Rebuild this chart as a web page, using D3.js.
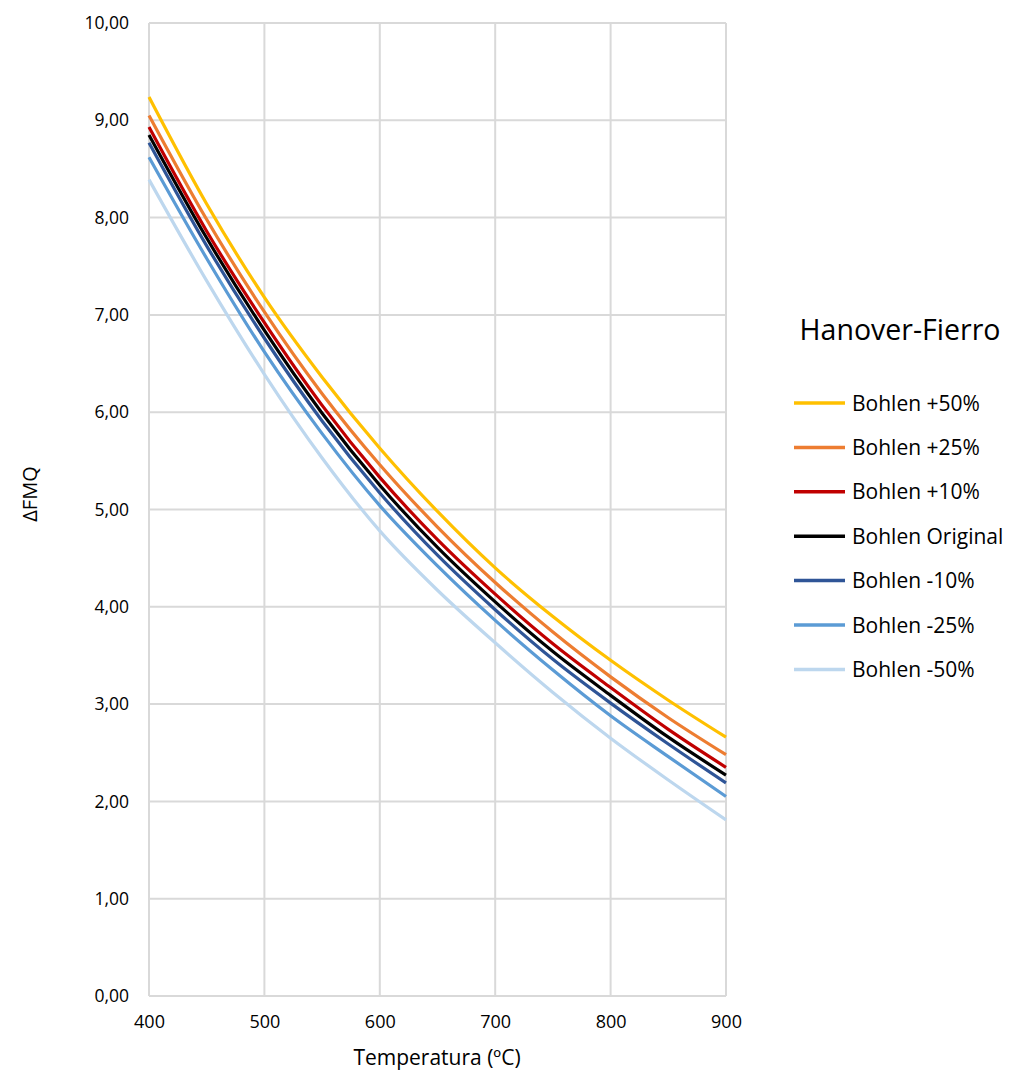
<!DOCTYPE html>
<html>
<head>
<meta charset="utf-8">
<script src="https://cdn.jsdelivr.net/npm/d3@7"></script>
<style>
  body { margin: 0; background: #fff; }
  svg { display: block; font-family: "Open Sans", "Noto Sans", sans-serif; }
</style>
</head>
<body>
<svg id="chart" width="1010" height="1072"></svg>
<script>
// Temperature grid (°C)
const temperatures = [400, 450, 500, 550, 600, 650, 700, 750, 800, 850, 900];

// ΔFMQ for each Bohlen variant
const seriesNames = ["Bohlen +50%", "Bohlen +25%", "Bohlen +10%", "Bohlen Original", "Bohlen -10%", "Bohlen -25%", "Bohlen -50%"];
const plus50   = [9.24, 8.14, 7.18, 6.36, 5.63, 4.98, 4.40, 3.90, 3.45, 3.04, 2.66];
const plus25   = [9.05, 7.98, 7.03, 6.19, 5.46, 4.82, 4.25, 3.74, 3.28, 2.86, 2.48];
const plus10   = [8.93, 7.86, 6.92, 6.07, 5.33, 4.69, 4.13, 3.62, 3.17, 2.74, 2.35];
const original = [8.85, 7.79, 6.84, 5.99, 5.25, 4.61, 4.05, 3.54, 3.09, 2.66, 2.27];
const minus10  = [8.77, 7.71, 6.76, 5.91, 5.17, 4.53, 3.97, 3.46, 3.01, 2.59, 2.19];
const minus25  = [8.62, 7.58, 6.62, 5.78, 5.04, 4.42, 3.86, 3.35, 2.88, 2.46, 2.05];
const minus50  = [8.39, 7.35, 6.39, 5.53, 4.78, 4.17, 3.63, 3.12, 2.65, 2.22, 1.81];
const seriesValues = [plus50, plus25, plus10, original, minus10, minus25, minus50];
const seriesColors = ["#FFC000", "#ED7D31", "#C00000", "#000000", "#2F5597", "#5B9BD5", "#BDD7EE"];

const xTicks = [400, 500, 600, 700, 800, 900];
const yTicks = [0, 1, 2, 3, 4, 5, 6, 7, 8, 9, 10];

const svg = d3.select("#chart");
const plot = { left: 149, right: 726, top: 23, bottom: 996 };

const x = d3.scaleLinear().domain([400, 900]).range([plot.left, plot.right]);
const y = d3.scaleLinear().domain([0, 10]).range([plot.bottom, plot.top]);

const fmt = v => v.toFixed(2).replace(".", ",");

// gridlines
const grid = svg.append("g");
grid.selectAll("line.h").data(yTicks).join("line")
  .attr("x1", plot.left).attr("x2", plot.right)
  .attr("y1", d => y(d)).attr("y2", d => y(d))
  .attr("stroke", "#d9d9d9").attr("stroke-width", 2);
grid.selectAll("line.v").data(xTicks).join("line")
  .attr("y1", plot.top).attr("y2", plot.bottom)
  .attr("x1", d => x(d)).attr("x2", d => x(d))
  .attr("stroke", "#d9d9d9").attr("stroke-width", 2);

// axes (labels only; lines come from the grid)
const yAxis = svg.append("g")
  .attr("transform", `translate(${plot.left},0)`)
  .call(d3.axisLeft(y).tickValues(yTicks).tickFormat(fmt).tickSize(0).tickPadding(20));
yAxis.select(".domain").remove();
yAxis.selectAll("text").attr("font-size", 17.5).attr("fill", "#000")
  .attr("font-family", "'Open Sans', sans-serif");

const xAxis = svg.append("g")
  .attr("transform", `translate(0,${plot.bottom})`)
  .call(d3.axisBottom(x).tickValues(xTicks).tickFormat(d3.format("d")).tickSize(0).tickPadding(19));
xAxis.select(".domain").remove();
xAxis.selectAll("text").attr("font-size", 18).attr("fill", "#000")
  .attr("font-family", "'Open Sans', sans-serif");

// axis titles
svg.append("text")
  .attr("x", 437).attr("y", 1065)
  .attr("text-anchor", "middle").attr("font-size", 21).attr("fill", "#000")
  .text("Temperatura (ºC)");
svg.append("text")
  .attr("transform", "translate(37,494) rotate(-90)")
  .attr("text-anchor", "middle").attr("font-size", 20).attr("fill", "#000")
  .text("ΔFMQ");

// series lines
const line = d3.line()
  .x((d, i) => x(temperatures[i]))
  .y(d => y(d))
  .curve(d3.curveMonotoneX);

svg.append("g").selectAll("path").data(seriesValues).join("path")
  .attr("d", d => line(d))
  .attr("fill", "none")
  .attr("stroke", (d, i) => seriesColors[i])
  .attr("stroke-width", 3.2)
  .attr("stroke-linejoin", "round");

// legend
svg.append("text")
  .attr("x", 900).attr("y", 340)
  .attr("text-anchor", "middle").attr("font-size", 28.5).attr("fill", "#000")
  .text("Hanover-Fierro");

const legend = svg.append("g");
const items = legend.selectAll("g").data(seriesNames).join("g")
  .attr("transform", (d, i) => `translate(794,${403 + i * 44.4})`);
items.append("line")
  .attr("x1", 0).attr("x2", 51).attr("y1", 0).attr("y2", 0)
  .attr("stroke", (d, i) => seriesColors[i]).attr("stroke-width", 3.5);
items.append("text")
  .attr("x", 58).attr("y", 7.5)
  .attr("font-size", 21).attr("fill", "#000")
  .text(d => d);
</script>
</body>
</html>
